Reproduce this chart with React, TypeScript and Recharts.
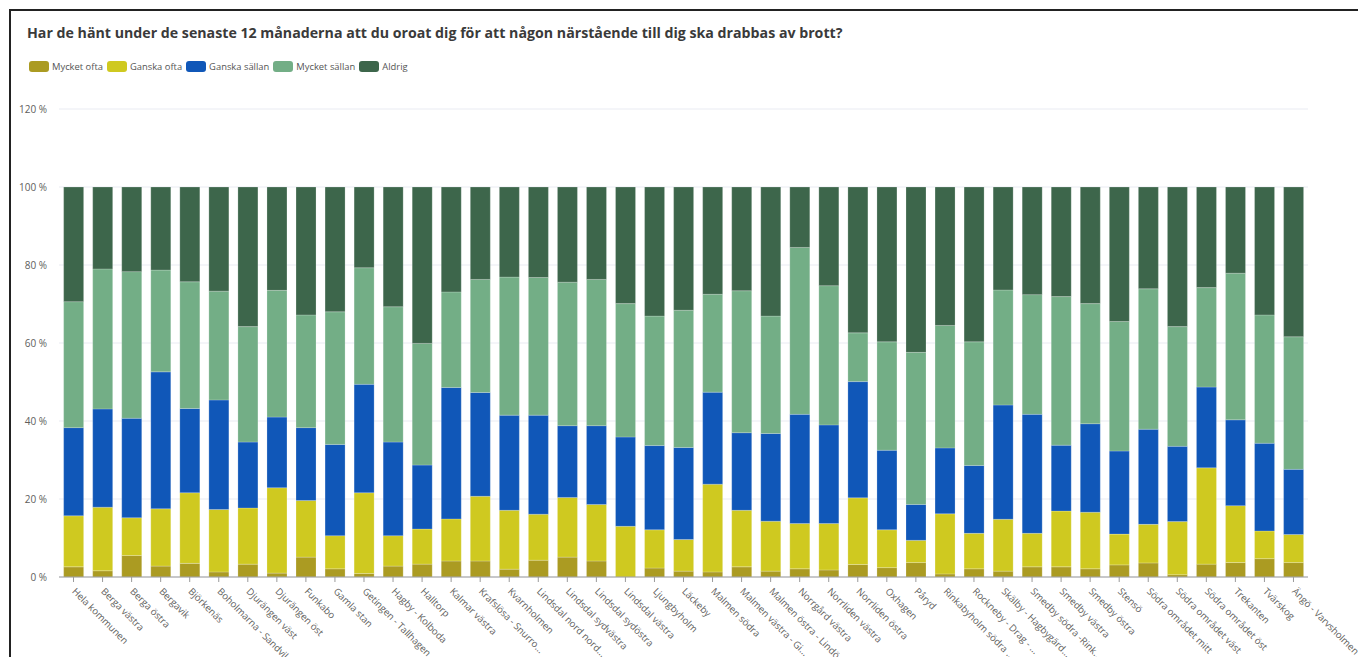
import React from "react";
import { BarChart, Bar, XAxis, YAxis, CartesianGrid } from "recharts";

const categories = [
  "Hela kommunen", "Berga västra", "Berga östra", "Bergavik", "Björkenäs",
  "Boholmarna - Sandvik", "Djurängen väst", "Djurängen öst", "Funkabo", "Gamla stan",
  "Getingen - Tallhagen", "Hagby - Kolboda", "Halltorp", "Kalmar västra", "Krafslösa - Snurro...",
  "Kvarnholmen", "Lindsdal nord nord...", "Lindsdal sydvästra", "Lindsdal sydöstra", "Lindsdal västra",
  "Ljungbyholm", "Läckeby", "Malmen södra", "Malmen västra - Gi...", "Malmen östra - Lindö",
  "Norrgård västra", "Norrliden västra", "Norrliden östra", "Oxhagen", "Påryd",
  "Rinkabyholm södra ...", "Rockneby - Drag - ...", "Skälby - Hagbygärd...", "Smedby södra -Rink...", "Smedby västra",
  "Smedby östra", "Stensö", "Södra området mitt", "Södra området väst", "Södra området öst",
  "Trekanten", "Tvärskog", "Ängö - Varvsholmen",
];

const mycketOfta = [
  2.6, 1.6, 5.5, 2.8, 3.5, 1.3, 3.3, 1.0, 5.1, 2.1,
  0.9, 2.8, 3.3, 4.1, 4.1, 2.0, 4.3, 5.1, 4.1, 0.0,
  2.3, 1.5, 1.3, 2.6, 1.5, 2.1, 1.8, 3.2, 2.4, 3.7,
  0.8, 2.1, 1.5, 2.6, 2.6, 2.1, 3.1, 3.6, 0.6, 3.3,
  3.7, 4.7, 3.7,
];
const ganskaOfta = [
  13.1, 16.3, 9.7, 14.7, 18.1, 16.0, 14.4, 21.9, 14.5, 8.5,
  20.7, 7.8, 9.0, 10.8, 16.6, 15.1, 11.8, 15.3, 14.5, 13.0,
  9.8, 8.1, 22.5, 14.5, 12.8, 11.6, 11.9, 17.1, 9.7, 5.7,
  15.4, 9.1, 13.3, 8.6, 14.3, 14.5, 7.9, 9.9, 13.6, 24.7,
  14.6, 7.1, 7.2,
];
const ganskaSallan = [
  22.6, 25.2, 25.5, 35.1, 21.6, 28.1, 16.9, 18.1, 18.7, 23.4,
  27.8, 24.0, 16.4, 33.7, 26.6, 24.4, 25.4, 18.4, 20.2, 22.9,
  21.6, 23.6, 23.6, 19.9, 22.5, 28.0, 25.3, 29.8, 20.4, 9.2,
  16.9, 17.4, 29.3, 30.5, 16.9, 22.7, 21.3, 24.4, 19.3, 20.7,
  22.0, 22.5, 16.7,
];
const mycketSallan = [
  32.3, 35.9, 37.6, 26.1, 32.5, 27.9, 29.6, 32.5, 28.9, 34.0,
  29.9, 34.7, 31.2, 24.5, 29.0, 35.4, 35.3, 36.8, 37.5, 34.2,
  33.2, 35.2, 25.1, 36.4, 30.1, 42.8, 35.7, 12.5, 27.8, 39.0,
  31.4, 31.7, 29.5, 30.7, 38.1, 30.8, 33.2, 36.0, 30.7, 25.5,
  37.6, 32.9, 34.0,
];
const aldrig = [
  29.4, 21.0, 21.7, 21.3, 24.3, 26.7, 35.8, 26.5, 32.8, 32.0,
  20.7, 30.7, 40.1, 26.9, 23.7, 23.1, 23.2, 24.4, 23.7, 29.9,
  33.1, 31.6, 27.5, 26.6, 33.1, 15.5, 25.3, 37.4, 39.7, 42.4,
  35.5, 39.7, 26.4, 27.6, 28.1, 29.9, 34.5, 26.1, 35.8, 25.8,
  22.1, 32.8, 38.4,
];

const seriesNames = ["Mycket ofta", "Ganska ofta", "Ganska sällan", "Mycket sällan", "Aldrig"];
const yTicks = [0, 20, 40, 60, 80, 100, 120];
const title =
  "Har de hänt under de senaste 12 månaderna att du oroat dig för att någon närstående till dig ska drabbas av brott?";

const seriesValues = [mycketOfta, ganskaOfta, ganskaSallan, mycketSallan, aldrig];
const colors = ["#ab9b22", "#cfc920", "#1057b8", "#73ae86", "#3d664b"];
const keys = ["s0", "s1", "s2", "s3", "s4"];

const data = categories.map((name, i) => {
  const row: Record<string, string | number> = { name };
  seriesValues.forEach((arr, k) => {
    row[keys[k]] = arr[i];
  });
  return row;
});

const FONT = "'Open Sans', 'Noto Sans', sans-serif";

const XTick = (props: any) => {
  const { x, y, payload } = props;
  return (
    <g transform={`translate(${x - 2},${y + 8}) rotate(45)`}>
      <text x={0} y={0} textAnchor="start" fill="#605e5c" fontSize={9.6} fontFamily={FONT}>
        {payload.value}
      </text>
    </g>
  );
};

export default function App() {
  return (
    <div
      style={{
        position: "fixed",
        left: 0,
        top: 0,
        width: 1358,
        height: 657,
        overflow: "hidden",
        background: "#fff",
        fontFamily: FONT,
      }}
    >
      <div
        style={{
          position: "absolute",
          left: 9,
          top: 9,
          width: 1360,
          height: 660,
          borderLeft: "2px solid #222",
          borderTop: "2px solid #222",
        }}
      />
      <div
        style={{
          position: "absolute",
          left: 27,
          top: 23,
          fontSize: 14.2,
          fontWeight: 700,
          color: "#3a3a3a",
          whiteSpace: "nowrap",
        }}
      >
        {title}
      </div>
      <div
        style={{
          position: "absolute",
          left: 29,
          top: 60,
          display: "flex",
          alignItems: "center",
          fontSize: 9.4,
          color: "#555",
          whiteSpace: "nowrap",
        }}
      >
        {seriesNames.map((n, i) => (
          <div key={n} style={{ display: "flex", alignItems: "center", marginRight: 4 }}>
            <span
              style={{
                display: "inline-block",
                width: 20,
                height: 11,
                borderRadius: 3,
                background: colors[i],
                marginRight: 3,
              }}
            />
            <span>{n}</span>
          </div>
        ))}
      </div>
      <div style={{ position: "absolute", left: 0, top: 0 }}>
        <BarChart
          width={1358}
          height={657}
          data={data}
          margin={{ top: 109, right: 50, bottom: 0, left: 0 }}
          barCategoryGap="16%"
        >
          <CartesianGrid vertical={false} stroke="#e9ebf2" />
          <XAxis
            dataKey="name"
            interval={0}
            height={80}
            tick={<XTick />}
            axisLine={{ stroke: "#9a9a9a" }}
            tickLine={{ stroke: "#9a9a9a" }}
            tickSize={5}
          />
          <YAxis
            width={59}
            domain={[0, 120]}
            ticks={yTicks}
            tickFormatter={(v: number) => `${v} %`}
            axisLine={false}
            tickLine={false}
            tick={{ fontSize: 10, fill: "#605e5c", fontFamily: FONT }}
            tickMargin={6}
          />
          {keys.map((k, i) => (
            <Bar
              key={k}
              dataKey={k}
              name={seriesNames[i]}
              stackId="a"
              fill={colors[i]}
              stroke="#ffffff"
              strokeOpacity={0.35}
              strokeWidth={0.6}
              isAnimationActive={false}
            />
          ))}
        </BarChart>
      </div>
    </div>
  );
}
